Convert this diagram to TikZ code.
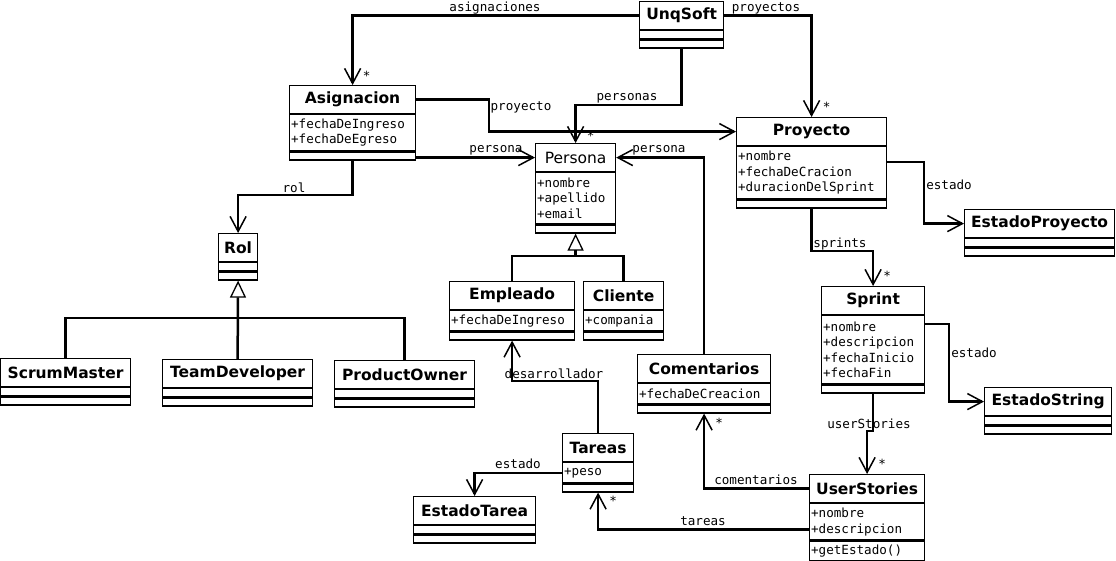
\documentclass[tikz,border=0pt]{standalone}
\usepackage{fontspec}
\setmainfont{DejaVu Sans}
\setmonofont{DejaVu Sans Mono}
\usetikzlibrary{positioning,arrows.meta}

\newcommand{\clsfont}{\fontsize{15.5}{18}\selectfont\bfseries}
\newcommand{\attrfont}{\fontsize{12.6}{15.5}\selectfont\ttfamily}

\tikzset{
  cls/.style={draw, line width=1.2pt, anchor=north west, minimum width=#1pt, minimum height=28pt, inner sep=0pt, font=\clsfont},
  part/.style 2 args={draw, line width=1.2pt, minimum width=#1pt, minimum height=#2pt, inner xsep=1.5pt, inner ysep=0pt,
    /utils/exec={\pgfmathsetlengthmacro\partw{#1-3}}, text width=\partw, align=left, font=\attrfont},
  slot/.style={draw, line width=1.2pt, minimum width=#1pt, minimum height=8pt, inner sep=0pt},
  assoc/.style={line width=2.5pt, -{Straight Barb[length=15pt,width=16pt,line width=1.5pt]}},
  gen/.style={line width=2.5pt, -{Triangle[open,length=17pt,width=16pt,line width=1.3pt]}},
  link/.style={line width=2.5pt},
  lbl/.style={font=\attrfont, inner sep=0pt},
  mult/.style={font=\attrfont, inner sep=0pt},
}

\begin{document}
\begin{tikzpicture}[x=1pt,y=-1pt]
  \useasboundingbox (0,0) rectangle (1116,561);
  \fill[white] (0,0) rectangle (1116,561);

  % classes
  \node[cls=84] (unq) at (639,1) {UnqSoft};
  \node[slot=84, below=0pt of unq] (unqA) {};
  \node[slot=84, below=0pt of unqA] (unqO) {};

  \node[cls=126] (asig) at (289,85) {Asignacion};
  \node[part={126}{36}, below=0pt of asig] (asigA) {+fechaDeIngreso\\+fechaDeEgreso};
  \node[slot=126, below=0pt of asigA] (asigO) {};

  \node[cls=80, font={\fontsize{15.5}{18}\selectfont}] (pers) at (535,143) {Persona};
  \node[part={80}{51}, below=0pt of pers] (persA) {+nombre\\+apellido\\+email};
  \node[slot=80, below=0pt of persA] (persO) {};

  \node[cls=150] (proy) at (736,117) {Proyecto};
  \node[part={150}{52}, below=0pt of proy] (proyA) {+nombre\\+fechaDeCracion\\+duracionDelSprint};
  \node[slot=150, below=0pt of proyA] (proyO) {};

  \node[cls=150] (estProy) at (964,209) {EstadoProyecto};
  \node[slot=150, below=0pt of estProy] (estProyA) {};
  \node[slot=150, below=0pt of estProyA] (estProyO) {};

  \node[cls=103] (sprint) at (821,286) {Sprint};
  \node[part={103}{68}, below=0pt of sprint] (sprintA) {+nombre\\+descripcion\\+fechaInicio\\+fechaFin};
  \node[slot=103, below=0pt of sprintA] (sprintO) {};

  \node[cls=127] (estStr) at (984,387) {EstadoString};
  \node[slot=127, below=0pt of estStr] (estStrA) {};
  \node[slot=127, below=0pt of estStrA] (estStrO) {};

  \node[cls=115] (us) at (809,474) {UserStories};
  \node[part={115}{36}, below=0pt of us] (usA) {+nombre\\+descripcion};
  \node[part={115}{20}, below=0pt of usA] (usO) {+getEstado()};

  \node[cls=39] (rol) at (218,233) {Rol};
  \node[slot=39, below=0pt of rol] (rolA) {};
  \node[slot=39, below=0pt of rolA] (rolO) {};

  \node[cls=130] (scrum) at (0,358) {ScrumMaster};
  \node[slot=130, below=0pt of scrum] (scrumA) {};
  \node[slot=130, below=0pt of scrumA] (scrumO) {};

  \node[cls=150] (team) at (162,359) {TeamDeveloper};
  \node[slot=150, below=0pt of team] (teamA) {};
  \node[slot=150, below=0pt of teamA] (teamO) {};

  \node[cls=140] (prod) at (334,360) {ProductOwner};
  \node[slot=140, below=0pt of prod] (prodA) {};
  \node[slot=140, below=0pt of prodA] (prodO) {};

  \node[cls=125] (empl) at (449,281) {Empleado};
  \node[part={125}{20}, below=0pt of empl] (emplA) {+fechaDeIngreso};
  \node[slot=125, below=0pt of emplA] (emplO) {};

  \node[cls=80] (cli) at (583,281) {Cliente};
  \node[part={80}{20}, below=0pt of cli] (cliA) {+compania};
  \node[slot=80, below=0pt of cliA] (cliO) {};

  \node[cls=133] (coment) at (637,354) {Comentarios};
  \node[part={133}{20}, below=0pt of coment] (comentA) {+fechaDeCreacion};
  \node[slot=133, below=0pt of comentA] (comentO) {};

  \node[cls=71] (tar) at (562,433) {Tareas};
  \node[part={71}{20}, below=0pt of tar] (tarA) {+peso};
  \node[slot=71, below=0pt of tarA] (tarO) {};

  \node[cls=122] (estT) at (413,496) {EstadoTarea};
  \node[slot=122, below=0pt of estT] (estTA) {};
  \node[slot=122, below=0pt of estTA] (estTO) {};

  % bends
  \coordinate (yPers) at (0,105);
  \coordinate (xProy) at (489,0);
  \coordinate (yRol) at (0,195);
  \coordinate (xEstP) at (924,0);
  \coordinate (ySpr) at (0,251);
  \coordinate (xEstS) at (949,0);
  \coordinate (yUS) at (0,431);
  \coordinate (yDes) at (0,381);
  \coordinate (yGenR) at (0,318);
  \coordinate (yGenP) at (0,256);
  \coordinate (rolJ) at (rolO.south |- yGenR);
  \coordinate (persJ) at (persO.south |- yGenP);

  % associations
  \draw[assoc] (asig.east) -| (xProy |- proy.west) -- (proy.west);
  \draw[assoc] (unq.west) -| (asig.north) node[mult, at end, xshift=14pt, yshift=9pt] (mAsig) {*};
  \draw[assoc] (unq.east) -| (proy.north) node[mult, at end, xshift=15pt, yshift=10pt] (mProy) {*};
  \draw[assoc] (unqO.south) -- (unqO.south |- yPers) -| (pers.north) node[mult, at end, xshift=15pt, yshift=7pt] (mPers) {*};
  \draw[assoc] (pers.west -| asigO.east) -- (pers.west);
  \draw[assoc] (coment.north) |- (pers.east);
  \draw[assoc] (asigO.south) -- (asigO.south |- yRol) -| (rol.north);
  \draw[assoc] ([yshift=-16pt]proyA.north east) -| (xEstP |- estProy.west) -- (estProy.west);
  \draw[assoc] (proyO.south) -- (proyO.south |- ySpr) -| (sprint.north) node[mult, at end, xshift=14pt, yshift=10pt] (mSpr) {*};
  \draw[assoc] ([yshift=-9pt]sprintA.north east) -| (xEstS |- estStr.west) -- (estStr.west);
  \draw[assoc] (sprintO.south) -- (sprintO.south |- yUS) -| (us.north) node[mult, at end, xshift=15pt, yshift=10pt] (mUS) {*};
  \draw[assoc] (us.west) -| (comentO.south) node[mult, at end, xshift=15pt, yshift=-9pt] (mCom) {*};
  \draw[assoc] ([yshift=11pt]usA.south west) -| (tarO.south) node[mult, at end, xshift=15pt, yshift=-8pt] (mTar) {*};
  \draw[assoc] (tar.north) -- (tar.north |- yDes) -| (emplO.south);
  \draw[assoc] (tarA.west) -| (estT.north);

  % herencia
  \draw[gen] (team.north) -- (rolO.south);
  \draw[link] (scrum.north) |- (rolJ) -| (prod.north);
  \draw[gen] (persJ) -- (persO.south);
  \draw[link] (empl.north) |- (persJ) -| (cli.north);

  % roles
  \node[lbl] (lAsig) at (495,8) {asignaciones};
  \node[lbl] (lProys) at (766,8) {proyectos};
  \node[lbl] (lPers) at (627,98) {personas};
  \node[lbl] (lProy) at (521,107) {proyecto};
  \node[lbl] (lPerA) at (496,150) {persona};
  \node[lbl] (lPerC) at (659,150) {persona};
  \node[lbl] (lRol) at (294,188) {rol};
  \node[lbl] (lEstP) at (949,185) {estado};
  \node[lbl] (lSpr) at (840,244) {sprints};
  \node[lbl] (lEstS) at (974,353) {estado};
  \node[lbl] (lUS) at (869,424) {userStories};
  \node[lbl] (lCom) at (756,480) {comentarios};
  \node[lbl] (lTar) at (703,521) {tareas};
  \node[lbl] (lDes) at (554,374) {desarrollador};
  \node[lbl] (lEstT) at (518,464) {estado};
\end{tikzpicture}
\end{document}
